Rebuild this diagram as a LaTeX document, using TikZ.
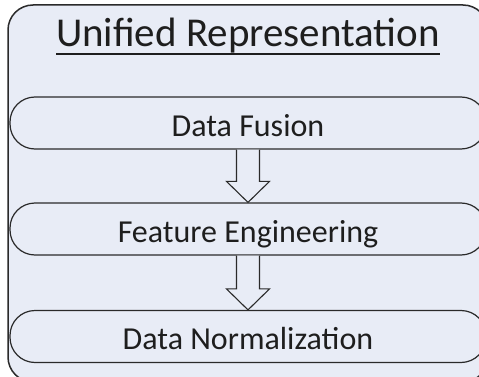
\documentclass[tikz,border=0pt]{standalone}
\usepackage{fontspec}
\setmainfont{Carlito}
\usetikzlibrary{calc}
\definecolor{panelfill}{HTML}{E8ECF6}
\definecolor{edgecol}{HTML}{2A2A2A}
\definecolor{txtcol}{HTML}{1E1E1E}
\newcommand\thickul[1]{\setbox0\hbox{#1}\rlap{\raisebox{\dimexpr-\dp0-1.5pt\relax}{\rule{\wd0}{1.8pt}}}\copy0}
\tikzset{
  outerbox/.style={draw=edgecol, line width=1.5pt, fill=panelfill, rounded corners=25pt},
  stagebox/.style={draw=edgecol, line width=1.2pt, fill=panelfill, rounded corners=25pt,
    minimum width=476pt, minimum height=52pt, inner sep=0pt, text=txtcol,
    text height=26pt, text depth=0pt,
    font=\fontsize{32}{38}\selectfont},
  blockarrow/.style={draw=edgecol, line width=1.1pt, fill=panelfill, line join=miter}
}
\begin{document}
\begin{tikzpicture}[x=1pt,y=-1pt]
\useasboundingbox (0,0) rectangle (479,377);
\clip (0,0) rectangle (479,377);
\fill[white] (0,0) rectangle (479,377);
\draw[outerbox] (8,5) rectangle (488,382);
\node[text=txtcol, font=\fontsize{41}{48}\selectfont, inner sep=0pt, anchor=base] (title) at (248,47) {\thickul{Unified Representation}};
\node[stagebox] (df) at (248,123) {Data Fusion};
\node[stagebox] (fe) at (248,229) {Feature Engineering};
\node[stagebox] (dn) at (248,336.5) {Data Normalization};
\foreach \a/\b in {df/fe, fe/dn}{
  \draw[blockarrow] ($(\a.south)+(-11.5,0)$) -- ($(\b.north)+(-11.5,-21)$) -- ($(\b.north)+(-21.5,-21)$) -- (\b.north) -- ($(\b.north)+(21.5,-21)$) -- ($(\b.north)+(11.5,-21)$) -- ($(\a.south)+(11.5,0)$);
}
\end{tikzpicture}
\end{document}
